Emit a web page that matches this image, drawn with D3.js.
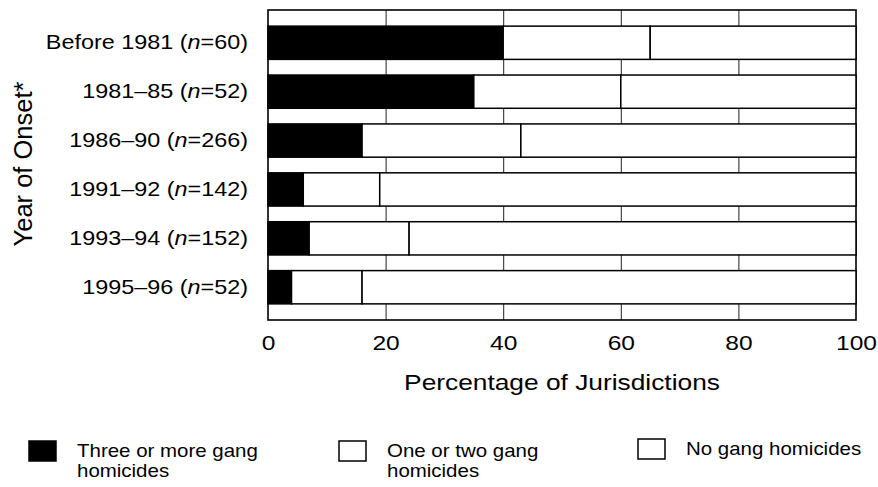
<html><head>
<script src="https://d3js.org/d3.v7.min.js"></script>
<style>
  body { margin: 0; background: #fff; }
  text { font-family: "Liberation Sans", Arial, sans-serif; fill: #000; }
  .gridlines line { stroke: #222; stroke-width: 1; }
  .gridlines .domain { stroke: none; }
</style>
</head>
<body>
<svg id="chart" width="878" height="487"></svg>
<script>

  // values (percent of jurisdictions)
  const categories = ["Before 1981", "1981\u201385", "1986\u201390", "1991\u201392", "1993\u201394", "1995\u201396"];
  const nValues = [60, 52, 266, 142, 152, 52];
  const threeOrMore = [40, 35, 16, 6, 7, 4];
  const oneOrTwo = [25, 25, 27, 13, 17, 12];
  const noGang = [35, 40, 57, 81, 76, 84];
  const xTicks = [0, 20, 40, 60, 80, 100];
  const seriesKeys = ["three", "oneTwo", "none"];
  const legendLabels = [["Three or more gang", "homicides"], ["One or two gang", "homicides"], ["No gang homicides"]];
  const seriesFill = ["#000", "#fff", "#fff"];

  const svg = d3.select("svg#chart");
  // the scanned figure is a bit wider than it is tall, so text is stretched sideways
  const stretch = 1.17;

  const plot = {left: 268, right: 856, top: 10, bottom: 320};

  const x = d3.scaleLinear().domain([0, 100]).range([plot.left, plot.right]);
  const y = d3.scaleBand().domain(categories).range([plot.top, plot.bottom])
              .paddingInner(0.32).paddingOuter(0.33);

  const table = categories.map((c, i) => ({cat: c, three: threeOrMore[i], oneTwo: oneOrTwo[i], none: noGang[i]}));
  const stacked = d3.stack().keys(seriesKeys)(table);

  // gridlines first, bars cover them
  svg.append("g")
    .attr("class", "gridlines")
    .attr("transform", "translate(0," + plot.bottom + ")")
    .call(d3.axisBottom(x).tickValues([20, 40, 60, 80]).tickSize(-(plot.bottom - plot.top)).tickFormat(""));

  // frame
  svg.append("rect")
    .attr("x", plot.left).attr("y", plot.top)
    .attr("width", plot.right - plot.left).attr("height", plot.bottom - plot.top)
    .attr("fill", "none").attr("stroke", "#000").attr("stroke-width", 1.6);

  // bars
  stacked.forEach((layer, k) => {
    svg.append("g").selectAll("rect")
      .data(layer)
      .join("rect")
      .attr("x", d => x(d[0]))
      .attr("y", d => y(d.data.cat))
      .attr("width", d => x(d[1]) - x(d[0]))
      .attr("height", y.bandwidth())
      .attr("fill", seriesFill[k])
      .attr("stroke", "#000")
      .attr("stroke-width", 1.5);
  });

  // y labels
  let leftAxis = svg.append("g")
    .attr("transform", "translate(248,0)")
    .call(d3.axisLeft(y).tickSize(0).tickPadding(0));
  leftAxis.select(".domain").remove();
  leftAxis.selectAll(".tick text")
    .attr("x", 0).attr("dy", "0.33em")
    .attr("text-anchor", "end")
    .style("font-size", "20px")
    .style("font-family", "Liberation Sans, Arial, sans-serif")
    .attr("transform", "scale(" + stretch + ",1)")
    .each(function(d, i) {
      const t = d3.select(this).text(null);
      t.append("tspan").text(d + " (");
      t.append("tspan").style("font-style", "italic").text("n");
      t.append("tspan").text("=" + nValues[i] + ")");
    });

  // x tick labels
  let bottomAxis = svg.append("g")
    .attr("transform", "translate(0," + plot.bottom + ")")
    .call(d3.axisBottom(x).tickValues(xTicks).tickSize(0).tickPadding(0));
  bottomAxis.select(".domain").remove();
  bottomAxis.selectAll(".tick text")
    .attr("y", 30).attr("dy", null)
    .style("font-size", "21px")
    .style("font-family", "Liberation Sans, Arial, sans-serif")
    .attr("transform", "scale(" + stretch + ",1)");

  // axis titles
  svg.append("text")
    .attr("transform", "translate(" + (plot.left + plot.right) / 2 + ",390) scale(" + stretch + ",1)")
    .attr("text-anchor", "middle")
    .style("font-size", "22.5px")
    .text("Percentage of Jurisdictions");

  svg.append("text")
    .attr("transform", "translate(32,164) rotate(-90)")
    .attr("text-anchor", "middle")
    .style("font-size", "25.5px")
    .text("Year of Onset*");

  // legend
  const legendX = [29, 339, 638];
  const legendY = [441, 441, 439];
  legendLabels.forEach((lines, k) => {
    let g = svg.append("g").attr("transform", "translate(" + legendX[k] + "," + legendY[k] + ")");
    g.append("rect")
      .attr("width", 27).attr("height", 20)
      .attr("fill", seriesFill[k]).attr("stroke", "#000").attr("stroke-width", 1.5);
    lines.forEach((line, j) => {
      g.append("text")
        .attr("transform", "translate(48," + (16 + j * 20) + ") scale(" + stretch + ",1)")
        .style("font-size", "17.5px")
        .text(line);
    });
  });

</script>
</body>
</html>
